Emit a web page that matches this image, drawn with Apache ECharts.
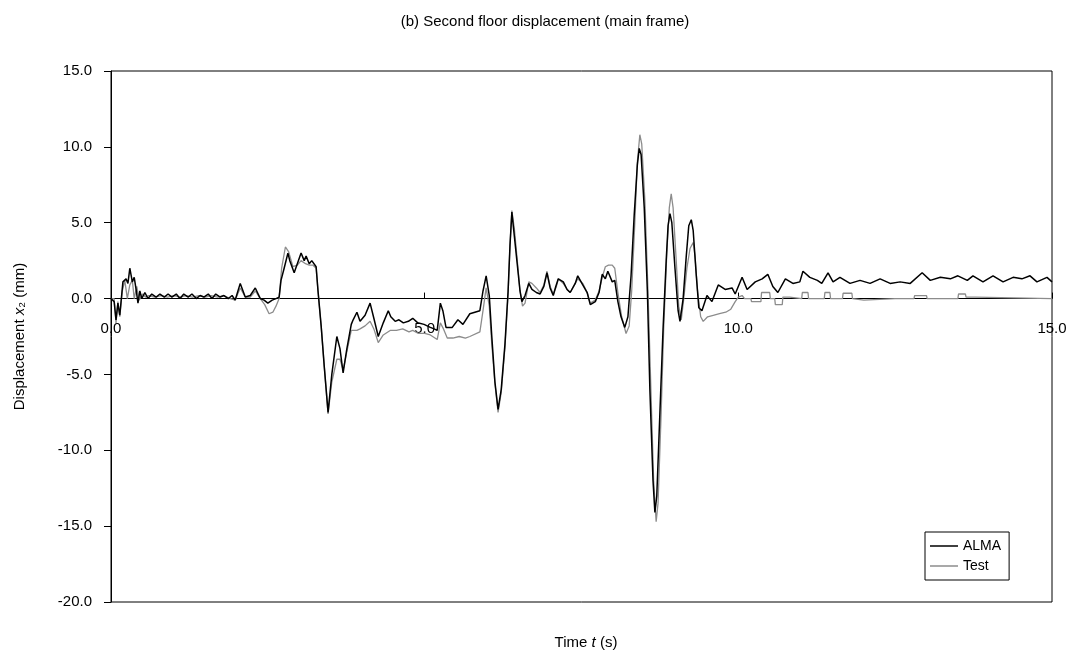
<!DOCTYPE html>
<html>
<head>
<meta charset="utf-8">
<script src="https://cdn.jsdelivr.net/npm/echarts@6/dist/echarts.min.js"></script>
<style>
  html, body { margin: 0; padding: 0; background: #fff; }
  #chart { width: 1078px; height: 656px; }
</style>
</head>
<body>
<div id="chart"></div>
<script>
// ALMA (computed) response, time in s / displacement in mm
const almaT = [0.00, 0.05, 0.08, 0.11, 0.14, 0.19, 0.24, 0.27, 0.30, 0.34, 0.37, 0.40, 0.43, 0.46, 0.49, 0.54, 0.59, 0.65, 0.72, 0.78, 0.85, 0.91, 0.97, 1.04, 1.10, 1.16, 1.23, 1.29, 1.36, 1.42, 1.48, 1.55, 1.61, 1.67, 1.74, 1.80, 1.87, 1.93, 1.98, 2.06, 2.14, 2.22, 2.30, 2.38, 2.44, 2.50, 2.57, 2.63, 2.68, 2.71, 2.76, 2.82, 2.85, 2.92, 2.97, 3.03, 3.08, 3.11, 3.16, 3.20, 3.27, 3.30, 3.35, 3.40, 3.46, 3.52, 3.60, 3.65, 3.70, 3.76, 3.83, 3.86, 3.92, 3.97, 4.05, 4.13, 4.19, 4.26, 4.34, 4.42, 4.46, 4.53, 4.59, 4.66, 4.74, 4.81, 4.89, 4.99, 5.09, 5.15, 5.20, 5.25, 5.29, 5.34, 5.44, 5.53, 5.61, 5.72, 5.80, 5.88, 5.93, 5.98, 6.03, 6.07, 6.12, 6.17, 6.22, 6.28, 6.33, 6.36, 6.39, 6.42, 6.47, 6.52, 6.55, 6.60, 6.66, 6.71, 6.78, 6.84, 6.90, 6.95, 7.00, 7.05, 7.09, 7.13, 7.21, 7.27, 7.32, 7.40, 7.44, 7.52, 7.59, 7.64, 7.72, 7.78, 7.83, 7.88, 7.92, 7.99, 8.03, 8.08, 8.13, 8.19, 8.24, 8.29, 8.34, 8.39, 8.42, 8.45, 8.50, 8.55, 8.59, 8.64, 8.67, 8.70, 8.75, 8.80, 8.85, 8.88, 8.91, 8.94, 8.99, 9.04, 9.07, 9.12, 9.17, 9.21, 9.25, 9.28, 9.33, 9.37, 9.42, 9.50, 9.58, 9.68, 9.79, 9.90, 9.95, 10.06, 10.14, 10.27, 10.38, 10.47, 10.55, 10.63, 10.75, 10.87, 10.98, 11.03, 11.14, 11.26, 11.33, 11.43, 11.51, 11.62, 11.78, 11.94, 12.10, 12.26, 12.42, 12.58, 12.74, 12.93, 13.06, 13.22, 13.38, 13.50, 13.65, 13.74, 13.90, 14.06, 14.22, 14.38, 14.52, 14.65, 14.76, 14.92, 15.00];
const almaV = [0.0, -0.2, -1.4, -0.3, -1.1, 1.1, 1.3, 1.0, 2.0, 1.1, 1.4, 0.6, -0.3, 0.5, 0.0, 0.4, 0.0, 0.3, 0.1, 0.3, 0.1, 0.3, 0.1, 0.3, 0.0, 0.3, 0.1, 0.3, 0.0, 0.2, 0.1, 0.3, 0.0, 0.3, 0.1, 0.2, 0.0, 0.2, -0.1, 1.0, 0.1, 0.2, 0.7, 0.0, -0.1, -0.3, -0.1, 0.0, 0.1, 1.2, 2.0, 3.0, 2.5, 1.7, 2.3, 3.0, 2.5, 2.8, 2.3, 2.5, 2.1, 0.5, -1.8, -4.5, -7.5, -5.0, -2.5, -3.3, -4.9, -3.3, -1.7, -1.4, -0.9, -1.5, -1.1, -0.3, -1.3, -2.5, -1.6, -0.8, -1.2, -1.5, -1.4, -1.6, -1.5, -1.3, -1.6, -1.7, -1.9, -2.0, -2.1, -0.3, -0.8, -1.9, -1.9, -1.4, -1.7, -1.0, -0.9, -0.8, 0.5, 1.5, 0.2, -2.5, -5.5, -7.3, -6.0, -3.0, 0.5, 3.5, 5.7, 4.5, 2.5, 0.5, -0.2, 0.2, 1.0, 0.6, 0.4, 0.3, 0.8, 1.7, 0.7, 0.2, 0.8, 1.3, 1.1, 0.6, 0.4, 1.0, 1.5, 0.9, 0.4, -0.4, -0.2, 0.4, 1.6, 1.3, 1.8, 1.1, 1.2, -0.2, -1.2, -1.9, -1.2, 1.5, 5.5, 8.8, 9.9, 9.5, 6.0, 0.5, -6.0, -12.0, -14.1, -13.0, -7.5, -2.0, 2.5, 4.8, 5.6, 5.0, 2.0, -0.8, -1.5, 0.0, 2.8, 4.8, 5.2, 4.5, 1.5, -0.6, -0.8, 0.2, -0.2, 0.9, 0.6, 0.7, 0.3, 1.4, 0.6, 1.1, 1.3, 1.6, 0.8, 0.4, 1.3, 1.0, 1.1, 1.8, 1.4, 1.2, 1.0, 1.7, 1.1, 1.4, 1.0, 1.2, 1.0, 1.3, 1.0, 1.1, 1.0, 1.7, 1.2, 1.4, 1.3, 1.5, 1.2, 1.5, 1.1, 1.5, 1.1, 1.4, 1.3, 1.5, 1.1, 1.4, 1.1];

// Test (measured) response
const testT = [0.00, 0.05, 0.08, 0.11, 0.14, 0.18, 0.22, 0.26, 0.30, 0.34, 0.37, 0.41, 0.45, 0.50, 0.55, 0.60, 0.70, 0.80, 0.90, 1.00, 1.10, 1.20, 1.30, 1.40, 1.50, 1.60, 1.70, 1.80, 1.90, 1.98, 2.06, 2.14, 2.22, 2.30, 2.38, 2.45, 2.52, 2.58, 2.63, 2.68, 2.72, 2.78, 2.83, 2.90, 2.97, 3.03, 3.10, 3.16, 3.22, 3.27, 3.30, 3.35, 3.40, 3.46, 3.52, 3.60, 3.65, 3.70, 3.76, 3.83, 3.92, 3.97, 4.05, 4.13, 4.19, 4.26, 4.34, 4.45, 4.55, 4.65, 4.75, 4.81, 4.90, 5.00, 5.09, 5.20, 5.25, 5.30, 5.36, 5.45, 5.55, 5.65, 5.72, 5.88, 5.93, 5.98, 6.03, 6.07, 6.12, 6.17, 6.22, 6.28, 6.33, 6.36, 6.39, 6.43, 6.47, 6.52, 6.56, 6.60, 6.66, 6.71, 6.78, 6.84, 6.90, 6.95, 7.00, 7.05, 7.10, 7.13, 7.21, 7.27, 7.32, 7.40, 7.44, 7.52, 7.59, 7.64, 7.72, 7.78, 7.83, 7.88, 7.93, 7.99, 8.03, 8.08, 8.14, 8.21, 8.26, 8.30, 8.35, 8.39, 8.43, 8.46, 8.51, 8.56, 8.61, 8.65, 8.69, 8.72, 8.77, 8.81, 8.86, 8.90, 8.93, 8.96, 9.01, 9.05, 9.09, 9.13, 9.18, 9.23, 9.28, 9.31, 9.35, 9.40, 9.44, 9.51, 9.60, 9.70, 9.80, 9.88, 9.95, 10.00, 10.06, 10.10, 10.20, 10.21, 10.36, 10.37, 10.50, 10.51, 10.58, 10.59, 10.70, 10.71, 10.82, 10.83, 11.01, 11.02, 11.11, 11.12, 11.37, 11.38, 11.46, 11.47, 11.66, 11.67, 11.81, 11.82, 12.00, 12.50, 12.80, 12.81, 13.00, 13.01, 13.50, 13.51, 13.62, 13.63, 13.78, 13.79, 15.00];
const testV = [0.0, 0.0, -1.6, -0.2, -1.2, 0.5, 1.2, 0.0, 0.9, 1.2, 0.0, 0.8, -0.1, 0.3, 0.1, 0.2, 0.1, 0.2, 0.1, 0.2, 0.1, 0.2, 0.1, 0.2, 0.1, 0.2, 0.1, 0.2, 0.0, -0.1, 0.7, 0.1, 0.1, 0.5, 0.0, -0.4, -1.0, -0.9, -0.5, 0.0, 2.0, 3.4, 3.1, 2.1, 2.2, 2.5, 2.3, 2.2, 2.2, 2.0, 0.5, -1.8, -4.5, -7.6, -5.5, -4.0, -4.0, -4.7, -3.5, -2.1, -2.1, -2.0, -1.8, -1.5, -2.0, -2.9, -2.4, -2.1, -2.1, -2.0, -2.2, -2.1, -2.3, -2.3, -2.4, -2.7, -1.6, -2.0, -2.6, -2.6, -2.5, -2.6, -2.5, -2.2, -0.8, 0.7, -0.5, -3.0, -5.6, -7.5, -6.2, -3.2, 0.3, 3.5, 5.8, 4.6, 2.8, 0.5, -0.5, -0.3, 1.1, 1.0, 0.7, 0.4, 0.9, 1.8, 0.8, 0.3, 0.8, 1.3, 1.0, 0.6, 0.4, 1.0, 1.3, 1.0, 0.4, -0.3, -0.1, 0.5, 1.4, 2.1, 2.2, 2.2, 2.0, 0.4, -1.2, -2.3, -1.8, 0.5, 5.0, 9.0, 10.8, 10.2, 6.5, 0.5, -6.5, -12.0, -14.7, -13.5, -7.5, -2.0, 3.0, 6.0, 6.9, 6.0, 2.5, -0.5, -1.4, 0.0, 2.0, 3.3, 3.7, 2.8, 0.5, -1.2, -1.5, -1.2, -1.1, -1.0, -0.9, -0.7, -0.2, 0.1, 0.2, 0.0, 0.0, -0.2, -0.2, 0.4, 0.4, 0.0, 0.0, -0.4, -0.4, 0.1, 0.1, 0.0, 0.0, 0.4, 0.4, 0.0, 0.0, 0.4, 0.4, 0.0, 0.0, 0.35, 0.35, 0.0, -0.1, 0.0, 0.0, 0.2, 0.2, 0.0, 0.0, 0.3, 0.3, 0.1, 0.1, 0.0, 0.0];

const xTicks = [0, 5, 10, 15];
const yTicks = [-20, -15, -10, -5, 0, 5, 10, 15];

const font = 'Liberation Sans, Arial, sans-serif';
const zip = (t, v) => t.map((x, i) => [x, v[i]]);

// plot box
const gridTop = 71, gridBottom = 54, chartH = 656;
const plotH = chartH - gridTop - gridBottom;
const yMin = yTicks[0], yMax = yTicks[yTicks.length - 1];
// lift the time axis (line, ticks, labels) up to displacement = 0
const zeroOffset = -plotH * (0 - yMin) / (yMax - yMin);

const chart = echarts.init(document.getElementById('chart'));
chart.setOption({
  animation: false,
  backgroundColor: '#fff',
  title: [
    {
      text: '(b) Second floor displacement (main frame)',
      left: 540,
      top: 9,
      textAlign: 'center',
      textStyle: { fontFamily: font, fontSize: 15, fontWeight: 'normal', color: '#000' }
    },
    {
      text: 'Time {i|t} (s)',
      left: 581,
      top: 630,
      textAlign: 'center',
      textStyle: {
        fontFamily: font, fontSize: 15, fontWeight: 'normal', color: '#000',
        rich: { i: { fontFamily: font, fontSize: 15, fontStyle: 'italic', color: '#000' } }
      }
    }
  ],
  grid: {
    left: 111, right: 26, top: gridTop, bottom: gridBottom,
    show: true, borderColor: '#000', borderWidth: 1
  },
  legend: {
    orient: 'vertical',
    left: 925, top: 532,
    icon: 'rect',
    itemWidth: 28, itemHeight: 1.5, itemGap: 4,
    padding: [6, 8, 6, 5],
    borderColor: '#000', borderWidth: 1, borderRadius: 0,
    backgroundColor: '#fff',
    textStyle: { fontFamily: font, fontSize: 14, color: '#000', lineHeight: 16 },
    data: ['ALMA', 'Test']
  },
  xAxis: {
    type: 'value',
    min: xTicks[0], max: xTicks[xTicks.length - 1], interval: 5,
    position: 'bottom',
    offset: zeroOffset,
    axisLine: { onZero: false, lineStyle: { color: '#000', width: 1 } },
    axisTick: { inside: true, length: 6, lineStyle: { color: '#000' } },
    axisLabel: { margin: 23, fontFamily: font, fontSize: 15, color: '#000', formatter: v => v.toFixed(1) },
    splitLine: { show: false }
  },
  yAxis: {
    type: 'value',
    min: yMin, max: yMax, interval: 5,
    name: 'Displacement {i|x}₂ (mm)',
    nameLocation: 'middle',
    nameGap: 84,
    nameTextStyle: {
      fontFamily: font, fontSize: 15, color: '#000',
      rich: { i: { fontFamily: font, fontSize: 15, fontStyle: 'italic', color: '#000' } }
    },
    axisLine: { show: true, lineStyle: { color: '#000', width: 1 } },
    axisTick: { show: true, length: 7, lineStyle: { color: '#000' } },
    axisLabel: { margin: 19, fontFamily: font, fontSize: 15, color: '#000', formatter: v => v.toFixed(1) },
    splitLine: { show: false }
  },
  series: [
    {
      name: 'ALMA',
      type: 'line',
      symbol: 'none',
      z: 3,
      lineStyle: { color: '#000', width: 1.5 },
      itemStyle: { color: '#000' },
      data: zip(almaT, almaV)
    },
    {
      name: 'Test',
      type: 'line',
      symbol: 'none',
      z: 2,
      lineStyle: { color: '#8c8c8c', width: 1.3 },
      itemStyle: { color: '#8c8c8c' },
      data: zip(testT, testV)
    }
  ]
});
</script>
</body>
</html>
